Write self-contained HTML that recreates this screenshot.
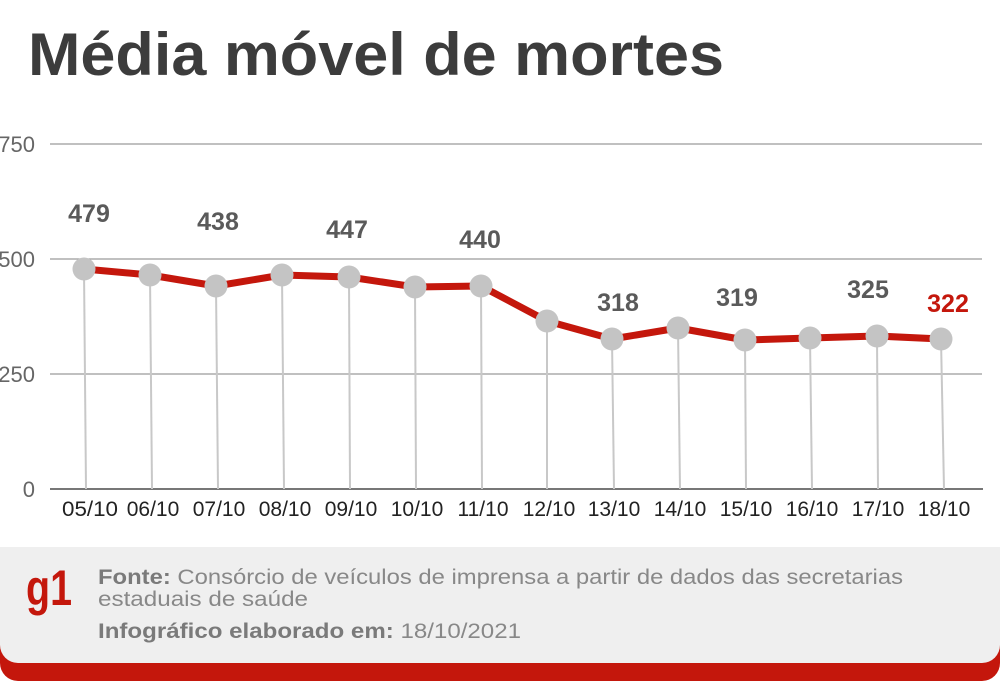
<!DOCTYPE html>
<html><head><meta charset="utf-8"><style>
html,body{margin:0;padding:0;background:#fff;}
svg{display:block;font-family:"Liberation Sans",sans-serif;}
</style></head><body>
<svg width="1000" height="691" viewBox="0 0 1000 691">
<text x="28" y="75" font-size="60" font-weight="bold" fill="#3c3c3c" textLength="696" lengthAdjust="spacingAndGlyphs">Média móvel de mortes</text>
<g stroke="#9a9a9a" stroke-width="1.3">
<line x1="50" y1="144" x2="982" y2="144"/>
<line x1="50" y1="259" x2="982" y2="259"/>
<line x1="50" y1="374" x2="982" y2="374"/>
</g>
<line x1="50" y1="489" x2="983" y2="489" stroke="#777" stroke-width="2"/>
<g font-size="22" fill="#666" text-anchor="end">
<text x="35" y="152">750</text><text x="35" y="267">500</text><text x="35" y="382">250</text><text x="35" y="497">0</text>
</g>
<g stroke="#c8c8c8" stroke-width="2">
<line x1="84" y1="269" x2="86" y2="489"/><line x1="150" y1="275" x2="152" y2="489"/><line x1="216" y1="286" x2="218" y2="489"/><line x1="282" y1="275" x2="284" y2="489"/><line x1="349" y1="277" x2="350" y2="489"/><line x1="415" y1="287" x2="416" y2="489"/><line x1="481" y1="286" x2="482" y2="489"/><line x1="547" y1="321" x2="547" y2="489"/><line x1="612" y1="339" x2="614" y2="489"/><line x1="678" y1="328" x2="680" y2="489"/><line x1="745" y1="340" x2="746" y2="489"/><line x1="810" y1="338" x2="812" y2="489"/><line x1="877" y1="336" x2="878" y2="489"/><line x1="941" y1="339" x2="944" y2="489"/>
</g>
<polyline fill="none" stroke="#c4170c" stroke-width="7" stroke-linejoin="round" points="84,269 150,275 216,286 282,275 349,277 415,287 481,286 547,321 612,339 678,328 745,340 810,338 877,336 941,339"/>
<g fill="#c4c4c4">
<circle cx="84" cy="269" r="11.5"/><circle cx="150" cy="275" r="11.5"/><circle cx="216" cy="286" r="11.5"/><circle cx="282" cy="275" r="11.5"/><circle cx="349" cy="277" r="11.5"/><circle cx="415" cy="287" r="11.5"/><circle cx="481" cy="286" r="11.5"/><circle cx="547" cy="321" r="11.5"/><circle cx="612" cy="339" r="11.5"/><circle cx="678" cy="328" r="11.5"/><circle cx="745" cy="340" r="11.5"/><circle cx="810" cy="338" r="11.5"/><circle cx="877" cy="336" r="11.5"/><circle cx="941" cy="339" r="11.5"/>
</g>
<g font-size="25" font-weight="bold" fill="#5a5a5a" text-anchor="middle">
<text x="89" y="222">479</text><text x="218" y="230">438</text><text x="347" y="238">447</text><text x="480" y="248">440</text><text x="618" y="311">318</text><text x="737" y="306">319</text><text x="868" y="298">325</text><text x="948" y="312" fill="#c4170c">322</text>
</g>
<g font-size="21" fill="#222" text-anchor="middle">
<text x="90" y="516" textLength="56" lengthAdjust="spacingAndGlyphs">05/10</text><text x="153" y="516">06/10</text><text x="219" y="516">07/10</text><text x="285" y="516">08/10</text><text x="351" y="516">09/10</text><text x="417" y="516">10/10</text><text x="483" y="516">11/10</text><text x="549" y="516">12/10</text><text x="614" y="516">13/10</text><text x="680" y="516">14/10</text><text x="746" y="516">15/10</text><text x="812" y="516">16/10</text><text x="878" y="516">17/10</text><text x="944" y="516">18/10</text>
</g>
<rect x="0" y="600" width="1000" height="81" rx="18" fill="#c4170c"/>
<rect x="0" y="547" width="1000" height="116" rx="18" fill="#efefef"/>
<rect x="0" y="547" width="1000" height="40" fill="#efefef"/>
<text x="26" y="605" font-size="50" font-weight="bold" fill="#c4170c" textLength="46" lengthAdjust="spacingAndGlyphs">g1</text>
<g font-size="21" fill="#888">
<text x="98" y="584" textLength="805" lengthAdjust="spacingAndGlyphs"><tspan font-weight="bold" fill="#7a7a7a">Fonte:</tspan> Consórcio de veículos de imprensa a partir de dados das secretarias</text>
<text x="98" y="606" textLength="210" lengthAdjust="spacingAndGlyphs">estaduais de saúde</text>
<text x="98" y="638" textLength="423" lengthAdjust="spacingAndGlyphs"><tspan font-weight="bold" fill="#7a7a7a">Infográfico elaborado em:</tspan> 18/10/2021</text>
</g>
</svg>
</body></html>
